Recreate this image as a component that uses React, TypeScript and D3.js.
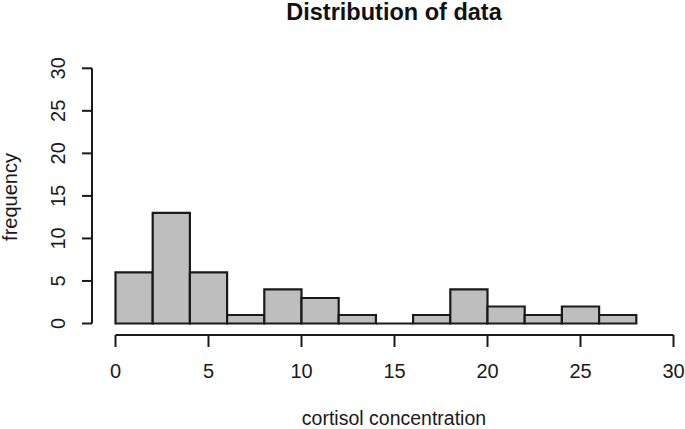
import React, { useEffect, useRef } from "react";
import * as d3 from "d3";

// histogram bins (width 2) and their counts
const binStarts = [0, 2, 4, 6, 8, 10, 12, 14, 16, 18, 20, 22, 24, 26];
const binWidth = 2;
const counts = [6, 13, 6, 1, 4, 3, 1, 0, 1, 4, 2, 1, 2, 1];

const xTicks = [0, 5, 10, 15, 20, 25, 30];
const yTicks = [0, 5, 10, 15, 20, 25, 30];

const title = "Distribution of data";
const xLabel = "cortisol concentration";
const yLabel = "frequency";

const App = () => {
  const chartRef = useRef(null);

  useEffect(() => {
    if (!chartRef.current) return;
    const svg = d3.select(chartRef.current);
    svg.selectAll("*").remove();

    const font = "'Liberation Sans', Arial, sans-serif";
    const ink = "#1a1a1a";

    const x = d3.scaleLinear().domain([0, 30]).range([115.5, 673.5]);
    const y = d3.scaleLinear().domain([0, 30]).range([323.5, 68.3]);

    const data = binStarts.map((b, i) => ({ x0: b, x1: b + binWidth, n: counts[i] }));

    // bars as closed paths so an empty bin still shows as a flat line
    svg
      .append("g")
      .selectAll("path")
      .data(data)
      .join("path")
      .attr("d", (d) => {
        const p = d3.path();
        p.moveTo(x(d.x0), y(0));
        p.lineTo(x(d.x0), y(d.n));
        p.lineTo(x(d.x1), y(d.n));
        p.lineTo(x(d.x1), y(0));
        p.closePath();
        return p.toString();
      })
      .attr("fill", "#bebebe")
      .attr("stroke", ink)
      .attr("stroke-width", 2.2)
      .attr("stroke-linejoin", "miter");

    // x axis
    const xAxis = svg.append("g").attr("stroke", ink).attr("stroke-width", 2);
    xAxis
      .append("line")
      .attr("x1", x(xTicks[0]))
      .attr("x2", x(xTicks[xTicks.length - 1]))
      .attr("y1", 335)
      .attr("y2", 335);
    xAxis
      .selectAll("line.tick")
      .data(xTicks)
      .join("line")
      .attr("class", "tick")
      .attr("x1", (d) => x(d))
      .attr("x2", (d) => x(d))
      .attr("y1", 335)
      .attr("y2", 347);
    svg
      .append("g")
      .selectAll("text")
      .data(xTicks)
      .join("text")
      .attr("x", (d) => x(d))
      .attr("y", 378)
      .attr("text-anchor", "middle")
      .style("font-family", font)
      .style("font-size", "20px")
      .style("fill", ink)
      .text((d) => d);

    // y axis
    const axisX = 92;
    const yAxis = svg.append("g").attr("stroke", ink).attr("stroke-width", 2);
    yAxis
      .append("line")
      .attr("x1", axisX)
      .attr("x2", axisX)
      .attr("y1", y(yTicks[0]))
      .attr("y2", y(yTicks[yTicks.length - 1]));
    yAxis
      .selectAll("line.tick")
      .data(yTicks)
      .join("line")
      .attr("class", "tick")
      .attr("x1", axisX - 10)
      .attr("x2", axisX)
      .attr("y1", (d) => y(d))
      .attr("y2", (d) => y(d));
    svg
      .append("g")
      .selectAll("text")
      .data(yTicks)
      .join("text")
      .attr("transform", (d) => `translate(65,${y(d)}) rotate(-90)`)
      .attr("text-anchor", "middle")
      .style("font-family", font)
      .style("font-size", "20px")
      .style("fill", ink)
      .text((d) => d);

    // titles
    svg
      .append("text")
      .attr("x", 394)
      .attr("y", 19.5)
      .attr("text-anchor", "middle")
      .style("font-family", font)
      .style("font-size", "23.5px")
      .style("font-weight", "bold")
      .style("fill", "#111")
      .text(title);

    svg
      .append("text")
      .attr("x", 394)
      .attr("y", 425)
      .attr("text-anchor", "middle")
      .style("font-family", font)
      .style("font-size", "19.5px")
      .style("fill", ink)
      .text(xLabel);

    svg
      .append("text")
      .attr("transform", `translate(17,197) rotate(-90)`)
      .attr("text-anchor", "middle")
      .style("font-family", font)
      .style("font-size", "20px")
      .style("fill", ink)
      .text(yLabel);
  }, []);

  return (
    <div style={{ position: "absolute", left: 0, top: 0 }}>
      <svg ref={chartRef} width={685} height={429} style={{ display: "block", background: "#fff" }}></svg>
    </div>
  );
};

export default App;
